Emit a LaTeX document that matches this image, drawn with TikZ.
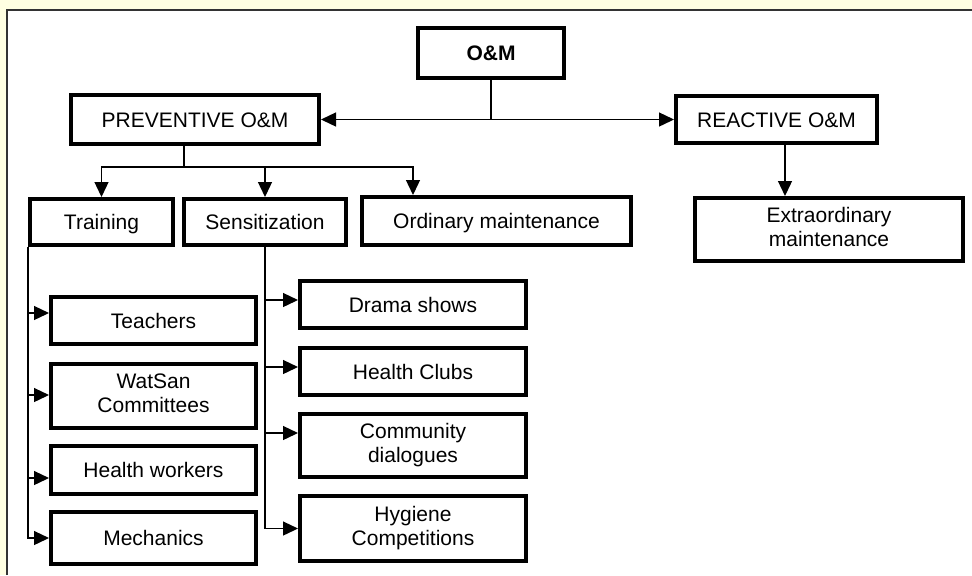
\documentclass[tikz,border=0pt]{standalone}
\usepackage{fontspec}
\setmainfont{Liberation Sans}
\usetikzlibrary{arrows.meta,positioning}
\definecolor{paper}{RGB}{255,255,226}
\newcommand{\boxstrut}{\rule[-2.5pt]{0pt}{12.5pt}}
\tikzset{
    %Define standard arrow tip
    >={Triangle[length=7.5pt,width=7pt]},
    %Define style for boxes
    box/.style 2 args={
           rectangle,
           draw=black, line width=2pt,
           fill=white,
           inner sep=0pt,
           minimum width=#1,
           minimum height=#2,
           font=\fontsize{10.5}{12}\selectfont,
           execute at begin node=\boxstrut,
           execute at end node=\boxstrut,
           align=center},
    topbox/.style 2 args={
           box={#1}{#2},
           line width=2.4pt,
           font=\fontsize{10.5}{12}\selectfont\bfseries},
    % Define arrow style
    pil/.style={
           ->,
           line width=0.65pt},
    bar/.style={
           line width=0.65pt}
}
\begin{document}
\begin{tikzpicture}[x=0.5pt,y=-0.5pt]
\useasboundingbox (0,0) rectangle (972,575);
\fill[paper] (0,0) rectangle (972,575);
\fill[white] (7,10) rectangle (972,575);
\draw[line width=0.8pt, black!80] (7,575) -- (7,10) -- (972,10);

 %nodes
\node[topbox={73pt}{25pt}] (om) at (491,53) {O\&M};
\node[box={124pt}{24.5pt}] (prev) at (195,119.5) {PREVENTIVE O\&M};
\node[box={100.5pt}{23.5pt}] (reac) at (776.5,119.5) {REACTIVE O\&M};

\node[box={71.5pt}{23pt}] (train) at (101.5,222) {Training};
\node[box={81pt}{23pt}] (sens) at (265,222) {Sensitization};
\node[box={134.5pt}{24pt}] (ord) at (496.5,221) {Ordinary maintenance};
\node[box={134pt}{31.5pt}] (extra) at (829,229.5) {Extraordinary\\maintenance};

\node[box={102.5pt}{23.5pt}] (teach) at (153.5,320.5) {Teachers};
\node[box={102.5pt}{32pt}] (wat) at (153.5,396) {WatSan\\Committees};
\node[box={102.5pt}{24pt}] (hw) at (153.5,470) {Health workers};
\node[box={102.5pt}{26pt}] (mech) at (153.5,538) {Mechanics};

\node[box={113pt}{23.5pt}] (drama) at (413,304.5) {Drama shows};
\node[box={113pt}{23.5pt}] (clubs) at (413,371.5) {Health Clubs};
\node[box={113pt}{31.5pt}] (comm) at (413,445.5) {Community\\dialogues};
\node[box={113pt}{32.5pt}] (hyg) at (413,528.5) {Hygiene\\Competitions};

 %connectors
\draw[pil] (om.south) |- (prev.east);
\draw[pil] (om.south) |- (reac.west);

\coordinate (split) at (184,167);
\draw[bar] (prev.south -| split) -- (split);
\draw[pil] (split) -| (train.north);
\draw[pil] (split) -| (sens.north);
\draw[pil] (split) -| ([xshift=-41.75pt]ord.north);

\draw[pil] ([xshift=4.25pt]reac.south) -- ([xshift=4.25pt]reac.south |- extra.north);

\draw[pil] (train.south west) |- (mech.west);
\foreach \n/\s in {teach/3.75pt, wat/0.5pt, hw/-4pt}
    \draw[pil] ([yshift=\s]train.south west |- \n.west) -- ([yshift=\s]\n.west);

\draw[pil] (sens.south) |- (hyg.west);
\foreach \n/\s in {drama/2.25pt, clubs/2.25pt, comm/6.25pt}
    \draw[pil] ([yshift=\s]sens.south |- \n.west) -- ([yshift=\s]\n.west);
\end{tikzpicture}
\end{document}
